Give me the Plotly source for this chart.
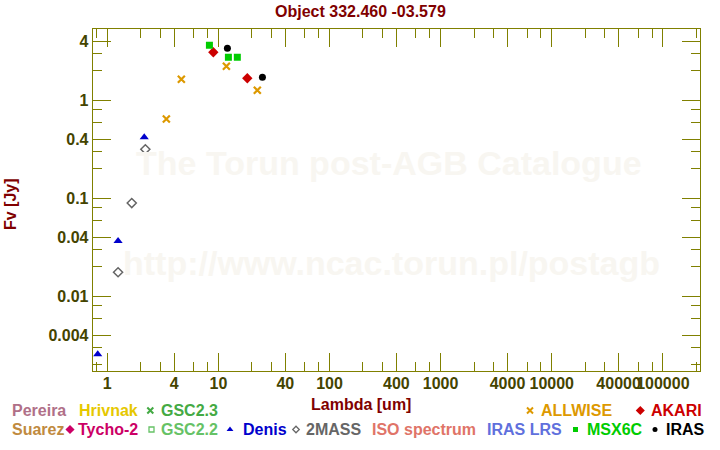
import plotly.graph_objects as go

W, H = 720, 450

# ---------------- data ----------------
denis_wl = [0.82, 1.25, 2.15]
denis_fl = [0.00256, 0.0367, 0.419]

mass_wl = [1.25, 1.66, 2.2]
mass_fl = [0.0176, 0.0895, 0.316]

allwise_wl = [3.4, 4.64, 11.8, 22.4]
allwise_fl = [0.644, 1.64, 2.22, 1.265]

akari_wl = [9.0, 18.2]
akari_fl = [3.09, 1.68]

msx_wl = [8.3, 12.3, 14.8]
msx_fl = [3.64, 2.75, 2.75]

iras_wl = [12.05, 24.9]
iras_fl = [3.40, 1.72]

x_major = [1, 4, 10, 40, 100, 400, 1000, 4000, 10000, 40000, 100000]
x_major_text = ["1", "4", "10", "40", "100", "400", "1000", "4000", "10000", "40000", "100000"]
y_major = [0.004, 0.01, 0.04, 0.1, 0.4, 1, 4]
y_major_text = ["0.004", "0.01", "0.04", "0.1", "0.4", "1", "4"]
minor_mult = [2, 3, 6, 8]

title_text = "Object 332.460 -03.579"
xlabel = "Lambda [um]"
ylabel = "Fv [Jy]"
watermark1 = "The Torun post-AGB Catalogue"
watermark2 = "http://www.ncac.torun.pl/postagb"

# ---------------- styling ----------------
FONT = "Liberation Sans, Arial, Helvetica, sans-serif"
OLIVE = "#808000"
TICKCOL = "#444400"
DARKRED = "#800000"

C_DENIS = "#0000CC"
C_2MASS = "#666666"
C_ALLWISE = "#DD9900"
C_AKARI = "#CC0000"
C_MSX = "#00CC00"
C_IRAS = "#000000"

# plot area in pixels
PX0, PX1 = 92.7, 699.5
PY0, PY1 = 29.3, 371.3

x_minor = [m * 10 ** k for k in range(-1, 6) for m in minor_mult if 0.7 < m * 10 ** k < 2.2e5] + [0.8]
y_minor = [m * 10 ** k for k in range(-3, 1) for m in minor_mult if 0.0017 < m * 10 ** k < 5.3]

fig = go.Figure()

fig.add_trace(go.Scatter(x=denis_wl, y=denis_fl, mode="markers", name="Denis",
                         marker=dict(symbol="triangle-up", size=8, color=C_DENIS, line=dict(width=0))))
fig.add_trace(go.Scatter(x=mass_wl, y=mass_fl, mode="markers", name="2MASS",
                         marker=dict(symbol="diamond-open", size=7, color=C_2MASS, line=dict(width=1.5, color=C_2MASS))))
fig.add_trace(go.Scatter(x=allwise_wl, y=allwise_fl, mode="markers", name="ALLWISE",
                         marker=dict(symbol="x-thin", size=7, color=C_ALLWISE, line=dict(width=2.2, color=C_ALLWISE))))
fig.add_trace(go.Scatter(x=akari_wl, y=akari_fl, mode="markers", name="AKARI",
                         marker=dict(symbol="diamond", size=8, color=C_AKARI, line=dict(width=0))))
fig.add_trace(go.Scatter(x=msx_wl, y=msx_fl, mode="markers", name="MSX6C",
                         marker=dict(symbol="square", size=7, color=C_MSX, line=dict(width=0))))
fig.add_trace(go.Scatter(x=iras_wl, y=iras_fl, mode="markers", name="IRAS",
                         marker=dict(symbol="circle", size=7, color=C_IRAS, line=dict(width=0))))

# ---------------- legend (custom, pixel overlay) ----------------
legend_items = [
    # (text, color, marker symbol or None, marker x, text x, y, marker size)
    ("Pereira", "#B07088", None, None, 11, 410.5, 0),
    ("Hrivnak", "#E6C800", None, None, 77.7, 410.5, 0),
    ("GSC2.3", "#44AA44", "x-thin", 150.3, 160, 410.5, 6),
    ("ALLWISE", C_ALLWISE, "x-thin", 530, 540, 410.5, 6),
    ("AKARI", C_AKARI, "diamond", 640.3, 650, 410.5, 7),
    ("Suarez", "#C08A40", None, None, 11, 429.5, 0),
    ("Tycho-2", "#CC0066", "diamond", 70, 76.7, 429.5, 7),
    ("GSC2.2", "#66C266", "square-open", 151.5, 160, 429.5, 5),
    ("Denis", C_DENIS, "triangle-up", 230, 241.7, 429.5, 6),
    ("2MASS", C_2MASS, "diamond-open", 296, 305, 429.5, 5),
    ("ISO spectrum", "#E07468", None, None, 370.7, 429.5, 0),
    ("IRAS LRS", "#6070DD", None, None, 486, 429.5, 0),
    ("MSX6C", C_MSX, "square", 575.5, 585.7, 429.5, 5),
    ("IRAS", C_IRAS, "circle", 655, 665, 429.5, 5),
]

annotations = []
for text, col, sym, mx, tx, ty, msize in legend_items:
    if sym is not None:
        lw = 2 if sym == "x-thin" else (1.3 if sym.endswith("open") else 0)
        fig.add_trace(go.Scatter(x=[mx], y=[ty], xaxis="x2", yaxis="y2", mode="markers",
                                 showlegend=False, hoverinfo="skip",
                                 marker=dict(symbol=sym, size=msize, color=col,
                                             line=dict(width=lw, color=col))))
    annotations.append(dict(x=tx, y=ty, xref="x2", yref="y2", text=text, showarrow=False,
                            xanchor="left", yanchor="middle", borderpad=0,
                            font=dict(family=FONT, size=16, color=col, weight=700)))

# titles and watermark
annotations += [
    dict(x=360, y=11, xref="x2", yref="y2", text=title_text, showarrow=False,
         xanchor="center", yanchor="middle", borderpad=0,
         font=dict(family=FONT, size=16, color=DARKRED, weight=700)),
    dict(x=360.5, y=404.5, xref="x2", yref="y2", text=xlabel, showarrow=False,
         xanchor="center", yanchor="middle", borderpad=0,
         font=dict(family=FONT, size=16, color=DARKRED, weight=700)),
    dict(x=10, y=204, xref="x2", yref="y2", text=ylabel, showarrow=False, textangle=-90,
         xanchor="center", yanchor="middle", borderpad=0,
         font=dict(family=FONT, size=16, color=DARKRED, weight=700)),
    dict(x=389, y=162.5, xref="x2", yref="y2", text=watermark1, showarrow=False,
         xanchor="center", yanchor="middle", borderpad=0,
         font=dict(family=FONT, size=34, color="#F8F6F1", weight=700)),
    dict(x=391, y=262.5, xref="x2", yref="y2", text=watermark2, showarrow=False,
         xanchor="center", yanchor="middle", borderpad=0,
         font=dict(family=FONT, size=34, color="#F8F6F1", weight=700)),
]

axis_common = dict(
    type="log", showgrid=False, zeroline=False, showline=True, linecolor=OLIVE, linewidth=1,
    mirror="allticks", ticks="inside", ticklen=18, tickwidth=1, tickcolor=OLIVE,
    tickfont=dict(family=FONT, size=16, color=TICKCOL, weight=700),
    tickangle=0, automargin=False,
)

fig.update_layout(
    template="none",
    width=W, height=H,
    margin=dict(l=0, r=0, t=0, b=0, pad=0),
    paper_bgcolor="white", plot_bgcolor="rgba(0,0,0,0)",
    showlegend=False,
    hovermode=False,
    font=dict(family=FONT),
    xaxis=dict(axis_common, domain=[PX0 / W, PX1 / W],
               range=[-0.1314, 5.330], tickmode="array", tickvals=x_major, ticktext=x_major_text,
               ticklabelstandoff=-3,
               minor=dict(tickmode="array", tickvals=x_minor, ticks="inside", ticklen=9,
                          tickwidth=1, tickcolor=OLIVE, showgrid=False),
               anchor="y"),
    yaxis=dict(axis_common, domain=[1 - PY1 / H, 1 - PY0 / H],
               range=[-2.765, 0.7243], tickmode="array", tickvals=y_major, ticktext=y_major_text,
               minor=dict(tickmode="array", tickvals=y_minor, ticks="inside", ticklen=9,
                          tickwidth=1, tickcolor=OLIVE, showgrid=False),
               anchor="x"),
    xaxis2=dict(domain=[0, 1], range=[0, W], visible=False, anchor="y2", fixedrange=True),
    yaxis2=dict(domain=[0, 1], range=[H, 0], visible=False, anchor="x2", fixedrange=True),
    annotations=annotations,
)

fig.write_html("out.html", config={"displayModeBar": False, "staticPlot": True},
               post_script="document.body.style.margin='0px';")
